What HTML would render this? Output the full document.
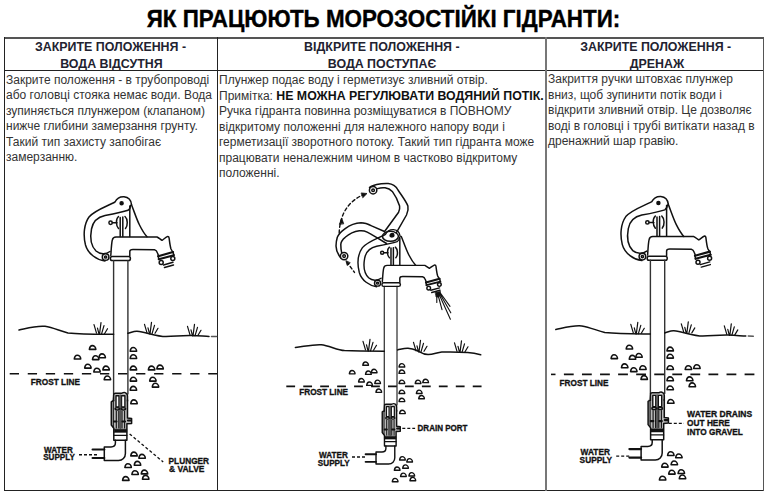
<!DOCTYPE html>
<html><head><meta charset="utf-8">
<style>
html,body{margin:0;padding:0;background:#fff;}
body{width:770px;height:500px;position:relative;overflow:hidden;font-family:"Liberation Sans",sans-serif;color:#222;}
.t{position:absolute;white-space:nowrap;}
#title{left:0;width:767px;top:6px;text-align:center;font-weight:bold;font-size:22.5px;color:#000;line-height:25px;transform:scale(0.995,1.09);-webkit-text-stroke:0.35px #000;transform-origin:383px 12.4px;}
.ln{position:absolute;background:#222;}
.hd{position:absolute;text-align:center;font-weight:bold;font-size:12.4px;line-height:16px;color:#222230;white-space:nowrap;}
.bd{position:absolute;top:72px;font-size:12px;line-height:15.5px;color:#333;white-space:nowrap;}
svg{position:absolute;left:0;top:0;}
.f{fill:#111;}
.k{stroke-width:2.2;}
.rk path{stroke-width:1.6;fill:#fff;}
.gr{stroke-width:1.2;}
</style></head><body>
<div id="title" class="t">ЯК ПРАЦЮЮТЬ МОРОЗОСТІЙКІ ГІДРАНТИ:</div>
<div class="ln" style="left:4px;top:37px;width:760px;height:1.5px;background:#555"></div>
<div class="ln" style="left:4px;top:70px;width:760px;height:1px"></div>
<div class="ln" style="left:4px;top:490px;width:760px;height:1px"></div>
<div class="ln" style="left:4px;top:37px;width:1px;height:454px"></div>
<div class="ln" style="left:763px;top:37px;width:1px;height:454px;background:#555"></div>
<div class="ln" style="left:217px;top:37px;width:1px;height:454px"></div>
<div class="ln" style="left:545px;top:37px;width:1.5px;height:454px;background:#777"></div>
<div class="hd" style="left:-39.45px;width:300px;top:39px">ЗАКРИТЕ ПОЛОЖЕННЯ -</div>
<div class="hd" style="left:-38.55px;width:300px;top:55.5px">ВОДА ВІДСУТНЯ</div>
<div class="hd" style="left:231.85px;width:300px;top:39px">ВІДКРИТЕ ПОЛОЖЕННЯ -</div>
<div class="hd" style="left:232.00px;width:300px;top:55.5px">ВОДА ПОСТУПАЄ</div>
<div class="hd" style="left:505.70px;width:300px;top:39px">ЗАКРИТЕ ПОЛОЖЕННЯ -</div>
<div class="hd" style="left:507.00px;width:300px;top:55.5px">ДРЕНАЖ</div>
<div class="bd" style="left:6px;top:72.5px">Закрите положення - в трубопроводі<br>або головці стояка немає води. Вода<br>зупиняється плунжером (клапаном)<br>нижче глибини замерзання грунту.<br>Такий тип захисту запобігає<br>замерзанню.</div>
<div class="bd" style="left:219px;top:73.4px">Плунжер подає воду і герметизує зливний отвір.<br>Примітка: <b style="color:#111;font-size:12.35px">НЕ МОЖНА РЕГУЛЮВАТИ ВОДЯНИЙ ПОТІК.</b><br>Ручка гідранта повинна розміщуватися в ПОВНОМУ<br>відкритому положенні для належного напору води і<br>герметизації зворотного потоку. Такий тип гідранта може<br>працювати неналежним чином в частково відкритому<br>положенні.</div>
<div class="bd" style="left:548px">Закриття ручки штовхає плунжер<br>вниз, щоб зупинити потік води і<br>відкрити зливний отвір. Це дозволяє<br>воді в головці і трубі витікати назад в<br>дренажний шар гравію.</div>
<svg width="770" height="500" viewBox="0 0 770 500">
<defs>
<g id="handle"><path d="M105,261 C97,260 88,254 85.5,245 C83,235 84,224 89,217 C95,210 108,206 115,202 C117,198 120,196.6 124,196.8 C128,197.2 131,200 131.5,204.5"/>
<path d="M110,251.5 C106,254.5 100,254.5 96,251 C91,246 90,237 91.5,229 C93,221 98,217 105,215.5 C113,214 123,212 128,210.3 C130,209 130.6,207 130.6,205.5"/>
<circle cx="121.6" cy="203.3" r="1.5" class="f"/></g>
<g id="head"><path d="M129.8,206 L129.8,236.5"/>
<path d="M131.4,204.5 C134,211 136.5,219 139.5,225 C142,230 144,233.5 147,236.8"/>
<path d="M120.2,217.5 L120.2,236.5 M122.8,217 L122.8,236.5"/>
<path d="M118.5,228.5 C116,226 115.5,219 118.5,216.5 M125,216.5 C128,219 127.8,226 125.5,228.5"/>
<circle cx="110.6" cy="222.8" r="1.7"/><path d="M112.3,222.8 L117,222.8"/>
<path d="M110.8,255.5 C111.2,250 111.5,243 112.3,240 C112.8,237.6 114,237 116,237 L157,237 C159,238 160.5,239.5 162,240.3 C164,239 166,237 167.8,236.4 C168.6,236.4 169,237 169.1,238 C169.6,242 170,246 171,249 L173,252.5"/>
<path d="M129.8,256 L129.8,251.5 C129.8,250 130.8,249.5 133,249.5 L154.5,249.7 C156,250 157,251.5 157.5,253 L158.6,256"/>
<path class="k" d="M158.2,256.2 L173,252 M158.8,259.2 L173.8,255.2"/>
<path d="M158.2,256.2 L158.8,259.2 M173,252 L173.8,255.2"/>
<circle cx="161.2" cy="262.6" r="2"/><circle cx="172.8" cy="258.6" r="2"/>
<path d="M163.5,265 L173,262.3 M164.5,267.5 L173.5,265"/>
<rect x="110.4" y="256.6" width="20" height="4" rx="1.8"/>
<circle cx="105.6" cy="257" r="3.3" fill="#fff"/><circle cx="105.6" cy="257" r="1.1"/></g>
<g id="lower"><path d="M113.6,260.6 L113.6,394 M127.9,260.6 L127.9,394" stroke="#333" stroke-width="1.4"/>
<path d="M113.6,394 L127.5,394 L127.5,418 L131.6,418.5 L131.6,423.5 L126.9,423.8 L126.9,429.5 L113.8,429.5 L113.8,428.3 L111.3,425 L111.3,401.8 Z" fill="#b8b8b8" stroke="none"/>
<path d="M113.6,401 L113.6,395 C113.6,393.8 114.3,393.2 115.5,393.2 L122,393.2 C123.5,392.3 125,392.3 126,393.2 C127,393.6 127.5,394.5 127.5,396 L127.5,401"/>
<rect x="116" y="395.8" width="3" height="11.2" fill="#fff" stroke-width="1.4"/><rect x="121.5" y="395.8" width="3.4" height="11.2" fill="#fff" stroke-width="1.4"/>
<path d="M120.3,395.5 L120.3,428" stroke="#555" stroke-width="1.8"/>
<path d="M113.6,400.5 L111.3,401.8 L111.3,425 L113.8,428.3 L113.8,440.2 M127.5,400 L127.5,418 L131.6,418.5 L131.6,423.5 L126.9,423.8 L126.9,440.2 M113.8,440.2 L126.9,440.2"/>
<ellipse cx="117.3" cy="408.8" rx="2.2" ry="1.1" fill="#fff" stroke-width="1.5"/><ellipse cx="123.4" cy="408.8" rx="2.2" ry="1.1" fill="#fff" stroke-width="1.5"/>
<path d="M113.3,402 L113.3,427 M116.3,411 L116.3,428 M118.8,411 L118.8,428 M122,411 L122,428 M124.6,411 L124.6,428" stroke-width="1.1"/>
<path class="k" d="M114,421.5 L116.5,421.5 M122.5,421.5 L125,421.5 M128,420.5 L131,420.5"/>
<rect x="114.2" y="429.2" width="12.5" height="3.2" class="f" stroke-width="0.5"/>
<path d="M114,435.3 L126.8,435.3" stroke-width="1.3"/>
<path d="M115.4,440.2 L115.4,443 C115.4,445.5 113.5,446.9 111,446.9 L104.3,446.9 L104.3,460.5 L118.5,460.5 C122.5,460.5 125.4,457.5 125.4,453.5 L125.4,440.2"/>
<path class="k" d="M92.6,449.5 L104.3,449.5 M92.6,458 L104.3,458"/>
<g class="rk">
<path d="M89.4,349.4 C89.7,346.9 91.0,345.6 92.3,345.6 C94.2,345.6 95.8,347.5 95.8,349.4 Z"/>
<path d="M74.3,359.0 C74.6,356.5 75.9,355.2 77.2,355.2 C79.1,355.2 80.7,357.1 80.7,359.0 Z"/>
<path d="M92.5,359.6 C92.8,357.1 94.1,355.8 95.4,355.8 C97.3,355.8 98.9,357.7 98.9,359.6 Z"/>
<path d="M99.0,357.7 C99.3,355.2 100.6,353.9 101.9,353.9 C103.8,353.9 105.4,355.8 105.4,357.7 Z"/>
<path d="M84.7,368.1 C85.0,365.6 86.3,364.3 87.6,364.3 C89.5,364.3 91.1,366.2 91.1,368.1 Z"/>
<path d="M93.8,372.0 C94.1,369.5 95.4,368.2 96.7,368.2 C98.6,368.2 100.2,370.1 100.2,372.0 Z"/>
<path d="M102.9,369.9 C103.2,367.4 104.5,366.1 105.8,366.1 C107.7,366.1 109.3,368.0 109.3,369.9 Z"/>
<path d="M104.2,379.8 C104.5,377.3 105.8,376.0 107.1,376.0 C109.0,376.0 110.6,377.9 110.6,379.8 Z"/>
<path d="M130.2,351.3 C130.5,348.8 131.8,347.5 133.1,347.5 C135.0,347.5 136.6,349.4 136.6,351.3 Z"/>
<path d="M130.2,358.5 C130.5,356.0 131.8,354.7 133.1,354.7 C135.0,354.7 136.6,356.6 136.6,358.5 Z"/>
<path d="M130.2,369.9 C130.5,367.4 131.8,366.1 133.1,366.1 C135.0,366.1 136.6,368.0 136.6,369.9 Z"/>
<path d="M130.2,381.1 C130.5,378.6 131.8,377.3 133.1,377.3 C135.0,377.3 136.6,379.2 136.6,381.1 Z"/>
<path d="M130.2,390.2 C130.5,387.7 131.8,386.4 133.1,386.4 C135.0,386.4 136.6,388.3 136.6,390.2 Z"/>
<path d="M130.8,403.7 C131.1,401.2 132.4,399.9 133.7,399.9 C135.6,399.9 137.2,401.8 137.2,403.7 Z"/>
<path d="M148.4,369.9 C148.7,367.4 150.0,366.1 151.3,366.1 C153.2,366.1 154.8,368.0 154.8,369.9 Z"/>
<path d="M156.9,368.9 C157.2,366.4 158.5,365.1 159.8,365.1 C161.7,365.1 163.3,367.0 163.3,368.9 Z"/>
<path d="M149.7,381.1 C150.0,378.6 151.3,377.3 152.6,377.3 C154.5,377.3 156.1,379.2 156.1,381.1 Z"/>
<path d="M152.3,387.1 C152.6,384.6 153.9,383.3 155.2,383.3 C157.1,383.3 158.7,385.2 158.7,387.1 Z"/>
<path d="M130.8,455.9 C131.1,453.4 132.4,452.1 133.7,452.1 C135.6,452.1 137.2,454.0 137.2,455.9 Z"/>
<path d="M138.9,458.2 C139.2,455.7 140.5,454.4 141.8,454.4 C143.7,454.4 145.3,456.3 145.3,458.2 Z"/>
<path d="M134.3,465.2 C134.6,462.7 135.9,461.4 137.2,461.4 C139.1,461.4 140.7,463.3 140.7,465.2 Z"/>
<path d="M124.9,467.5 C125.2,465.0 126.5,463.7 127.8,463.7 C129.7,463.7 131.3,465.6 131.3,467.5 Z"/>
<path d="M131.9,474.5 C132.2,472.0 133.5,470.7 134.8,470.7 C136.7,470.7 138.3,472.6 138.3,474.5 Z"/>
<path d="M141.3,473.9 C141.6,471.4 142.9,470.1 144.2,470.1 C146.1,470.1 147.7,472.0 147.7,473.9 Z"/>
<path d="M122.6,480.4 C122.9,477.9 124.2,476.6 125.5,476.6 C127.4,476.6 129.0,478.5 129.0,480.4 Z"/>
<path d="M142.5,479.2 C142.8,476.7 144.1,475.4 145.4,475.4 C147.3,475.4 148.9,477.3 148.9,479.2 Z"/>
</g></g>
<g id="ground"><path d="M211.5,336.5 L216.5,336.6" stroke="#555"/>
<path d="M19,330 C28,328 36,325.5 45,326.3 C53,327.5 60,331 68,333 C82,334.5 98,334.3 113.6,334.3 M127.9,333.3 C131,332.5 134,331 137,331.2 C146,332 156,336.5 166,336.5 C176,336.2 184,335.2 192,335.5 C200,335.8 205,336.3 209,336.4"/>
<path class="gr" d="M96.5,333.2 L94.0,324.7 M99.0,334.2 L97.5,328.2 M99.5,334.2 L101.0,322.7 M101.5,334.2 L104.0,325.7 M104.5,333.7 L107.5,328.7"/>
<path class="gr" d="M147.0,332.8 L144.5,324.3 M149.5,333.8 L148.0,327.8 M150.0,333.8 L151.5,322.3 M152.0,333.8 L154.5,325.3 M155.0,333.3 L158.0,328.3"/>
<path class="gr" d="M190.0,334.8 L187.5,326.3 M192.5,335.8 L191.0,329.8 M193.0,335.8 L194.5,324.3 M195.0,335.8 L197.5,327.3 M198.0,335.3 L201.0,330.3"/></g>
</defs>
<g fill="none" stroke="#111" stroke-width="1.5" stroke-linecap="round" stroke-linejoin="round">
<use href="#handle"/><use href="#head"/><use href="#lower"/><use href="#ground"/>
<g transform="translate(536.8,-0.4)"><use href="#handle"/><use href="#head"/><use href="#lower"/><use href="#ground"/></g>
<g transform="translate(283.3,54.7) scale(0.889)" stroke-width="1.6"><use href="#handle"/><use href="#lower"/></g>
<g transform="translate(280.4,54.7) scale(0.92,0.889)" stroke-width="1.6"><use href="#head"/></g>
<path d="M295.4,347.5 C304,346.5 313,344.2 321.2,344.7 C329,345.5 337,350 344.5,350.6 C357,351.2 370,351.2 384.3,351.2 M397.6,349.9 C401,349.2 404.5,348 408,348.2 C412,348.6 414.5,349.5 417,350.5 C420,352 423,354.5 428,354.6 C433,354.7 437,352.5 441.8,352.1 C448,351.8 460,352 467.7,352.6 C473,353 477,353.8 480.7,354.7"/>
<g stroke-width="1.1"><path class="gr" d="M365.5,349.8 L363.0,341.3 M368.0,350.8 L366.5,344.8 M368.5,350.8 L370.0,339.3 M370.5,350.8 L373.0,342.3 M373.5,350.3 L376.5,345.3"/><path class="gr" d="M416.0,350.8 L413.5,342.3 M418.5,351.8 L417.0,345.8 M419.0,351.8 L420.5,340.3 M421.0,351.8 L423.5,343.3 M424.0,351.3 L427.0,346.3"/><path class="gr" d="M457.0,351.3 L454.5,342.8 M459.5,352.3 L458.0,346.3 M460.0,352.3 L461.5,340.8 M462.0,352.3 L464.5,343.8 M465.0,351.8 L468.0,346.8"/></g>
<path d="M369.5,187.5 C372,185 380,183.3 388.2,183.6 C393,184 396,186.5 398,190 C402,196 406.5,202 407.9,206 C408.5,209 408,212 406.5,215 L396.4,232.6"/>
<path d="M377.5,188.6 C380.5,187.6 383,187.5 385.1,187.8 C388,188.2 390.5,189.5 392.3,191.4 C395,195 398,201 399.6,206 C400,208.5 399.5,210.5 398.6,212.2 L384.4,231.8"/>
<circle cx="373.1" cy="190.2" r="3.7" fill="#fff"/><circle cx="373.1" cy="190.2" r="1.3"/>
<path d="M340.8,258 C338,254.5 336,250 336,246.1 C336,242 336.5,240 337.3,237.3 C339,233 342,231 345.2,228.6 C350,225 355,223 361,222.8 C365,222.8 368,224 371.6,225.9 L383.9,231.2"/>
<path d="M341.7,252.8 C341,250 340.8,247 340.8,244.4 C341,241 343,239 345.2,237.3 C349,234 354,231.5 359.3,230.8 C362,230.5 365,231 367.2,232.1 C371,234 374,236 377.7,238.2 L386.5,243.5"/>
<circle cx="344.1" cy="256.1" r="3.7" fill="#fff"/><circle cx="344.1" cy="256.1" r="1.3"/>
<ellipse cx="390.4" cy="236.3" rx="8" ry="5"/><circle cx="392.3" cy="235.2" r="1.6" class="f"/>
<path d="M339.2,233 C339.5,222 343,210 352,202 C356,198.5 360,196 364,194.5" stroke-dasharray="3.2 2.6" stroke-width="1.4"/>
<path d="M361.5,193 L367,193.5 L363,197.5 Z M339.5,224 L341.7,218 L343.6,223.5 Z" class="f" stroke-width="0.8"/>
<path d="M346.8,262 L354.5,272.4" stroke-dasharray="3 2.6" stroke-width="1.4"/>
<path d="M346,261 L347.2,265.5 L350,263 Z" class="f" stroke-width="0.8"/>
<path d="M436.8,293 L436.8,302.4 M437.5,293 L442,309.6 M438.5,293 L450.4,319.2 M439.5,293 L450.8,312.8 M440,292.5 L450,306.4" stroke-width="1.1"/>
<path d="M435.5,292.5 L440.5,291.5 L439,297 L436.5,297 Z" class="f" stroke-width="0.8"/>
</g>
<g fill="#111" font-family="Liberation Sans" font-weight="bold" font-size="8.2" stroke="#111" stroke-width="0.3" style="white-space:pre">
<text x="44.1" y="452.5" textLength="28.8" lengthAdjust="spacingAndGlyphs">WATER</text>
<text x="43.2" y="460.3" textLength="31.6" lengthAdjust="spacingAndGlyphs">SUPPLY</text>
<text x="30.8" y="384.5" textLength="49.1" lengthAdjust="spacingAndGlyphs">FROST LINE</text>
<text x="168.6" y="463.8" textLength="40.5" lengthAdjust="spacingAndGlyphs">PLUNGER</text>
<text x="169.1" y="472.2" textLength="35.3" lengthAdjust="spacingAndGlyphs">&amp; VALVE</text>
<text x="318.9" y="457.8" textLength="28.9" lengthAdjust="spacingAndGlyphs">WATER</text>
<text x="317.8" y="465.7" textLength="31.9" lengthAdjust="spacingAndGlyphs">SUPPLY</text>
<text x="299.2" y="395" textLength="48.9" lengthAdjust="spacingAndGlyphs">FROST LINE</text>
<text x="417.6" y="431" textLength="49.8" lengthAdjust="spacingAndGlyphs">DRAIN PORT</text>
<text x="580.6" y="455.4" textLength="29.4" lengthAdjust="spacingAndGlyphs">WATER</text>
<text x="579.6" y="463.2" textLength="32.5" lengthAdjust="spacingAndGlyphs">SUPPLY</text>
<text x="559.6" y="386" textLength="48.8" lengthAdjust="spacingAndGlyphs">FROST LINE</text>
<text x="687.1" y="417.4" textLength="65.0" lengthAdjust="spacingAndGlyphs">WATER  DRAINS</text>
<text x="687.1" y="426" textLength="42.8" lengthAdjust="spacingAndGlyphs">OUT HERE</text>
<text x="687.1" y="435.4" textLength="55.7" lengthAdjust="spacingAndGlyphs">INTO GRAVEL</text>
</g>
<g fill="none" stroke="#111" stroke-width="1.6">
<path d="M9.7,373.8 L217,373.8" stroke-dasharray="9.3 8.75"/>
<path d="M79,454.7 L97,454.7" stroke-dasharray="3 2" stroke-width="1.4"/>
<path d="M129.6,433.9 L163.2,462" stroke-dasharray="3 2.2" stroke-width="1.3"/>
<path d="M286.3,386.4 L482.5,386.4" stroke-dasharray="8.8 8.15"/>
<path d="M352,457 L365,457" stroke-dasharray="3 2" stroke-width="1.4"/>
<path d="M402.3,428.4 L415.1,428.4" stroke-dasharray="3 2" stroke-width="1.4"/>
<path d="M551,374.4 L555.5,374.4"/><path d="M563.9,374.4 L754.6,374.4" stroke-dasharray="9.8 8.27"/>
<path d="M616.2,456.1 L630,456.1" stroke-dasharray="3 2" stroke-width="1.4"/>
<path d="M668.8,423.4 L684,423.4" stroke-dasharray="3 2" stroke-width="1.4"/>
</g>
</svg>
</body></html>
